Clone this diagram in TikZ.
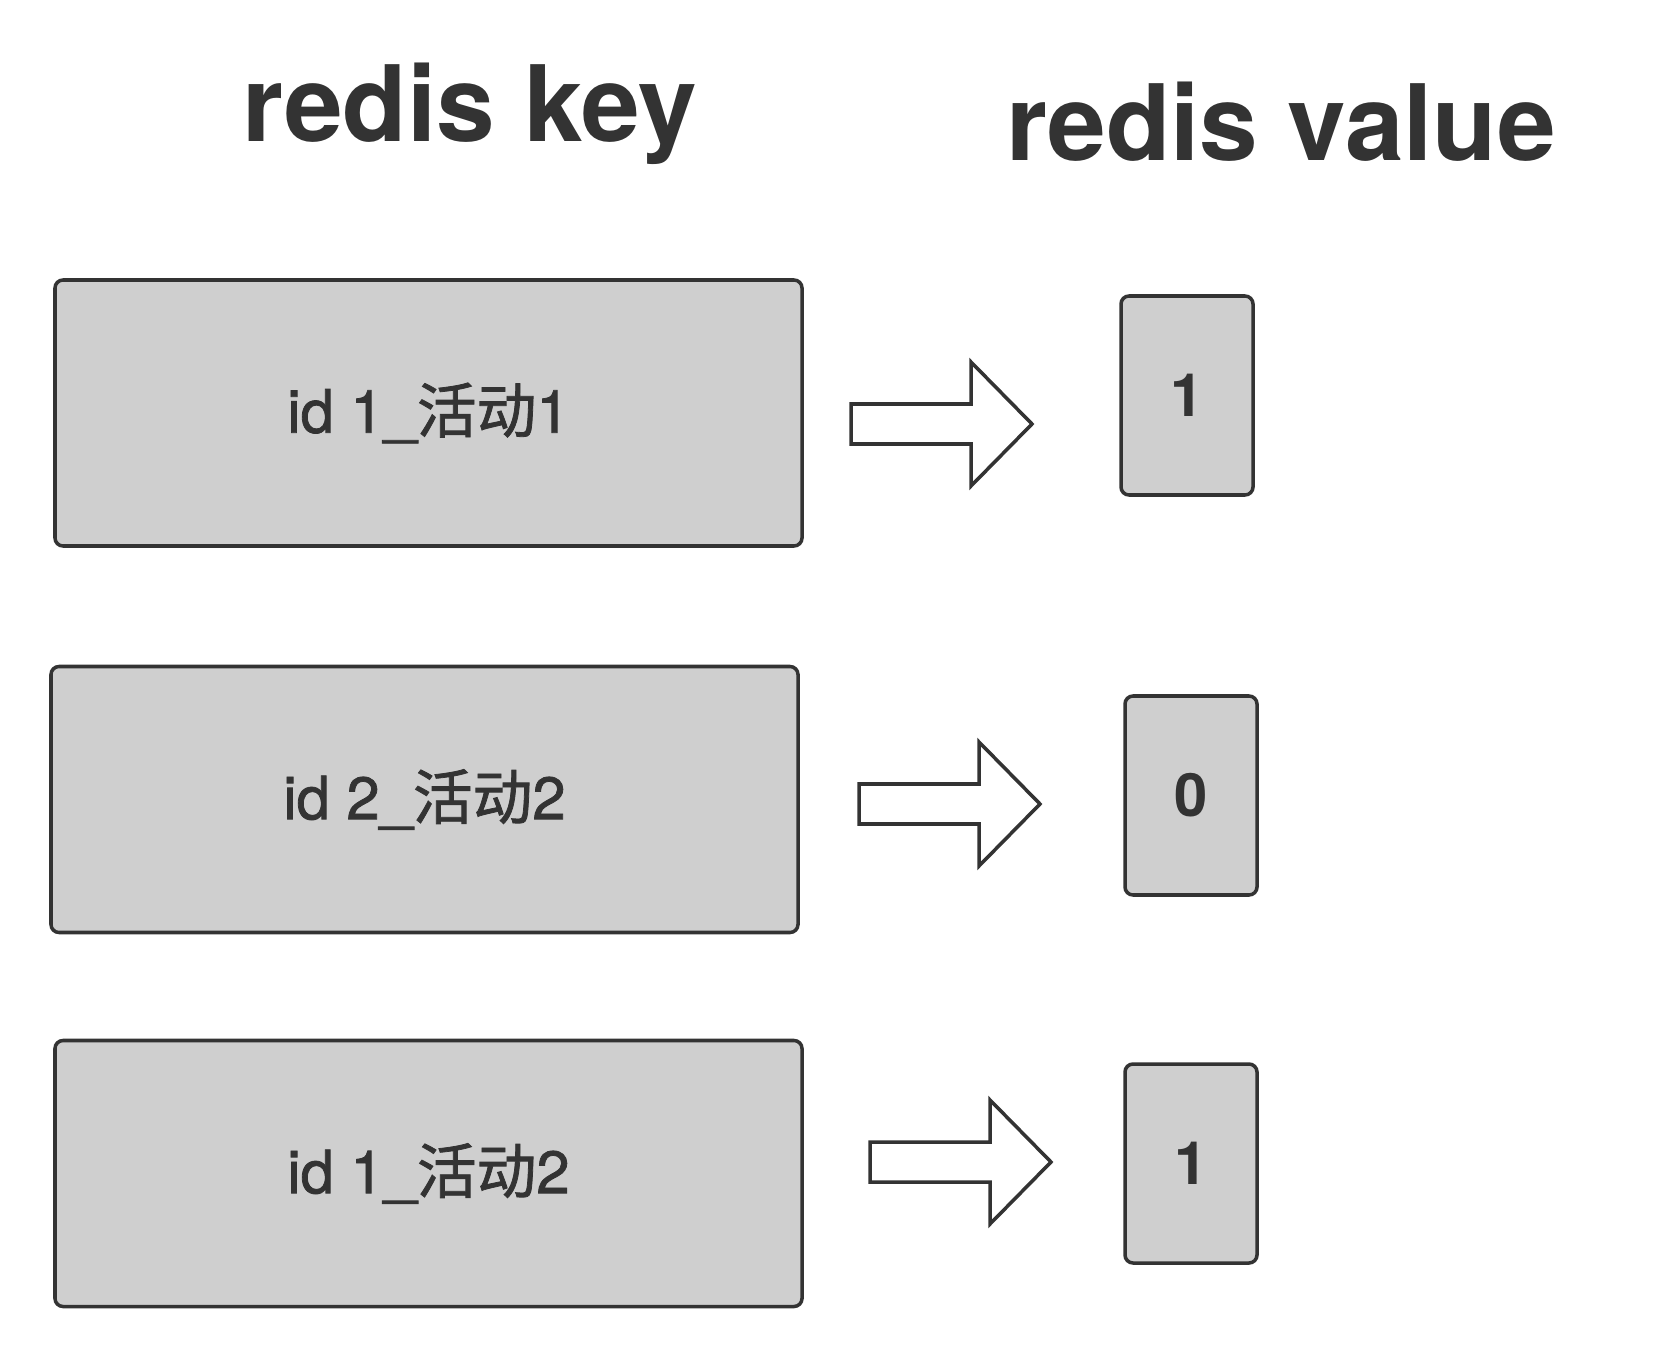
\documentclass[tikz,border=0pt]{standalone}
\usepackage{fontspec}
\setmainfont{TeX Gyre Heros}
\newfontfamily\midfont{TeX Gyre Heros}[FakeBold=1.3]
\newfontfamily\cjk{Noto Sans CJK SC}[FakeBold=1.3]
\definecolor{inkgray}{HTML}{333333}
\definecolor{boxgray}{HTML}{CFCFCF}

\begin{document}
\begin{tikzpicture}[
    keybox/.style={draw=inkgray, fill=boxgray, line width=2pt, rounded corners=0.16cm,
        minimum width=14.94cm, minimum height=5.32cm, text=inkgray, font=\fontsize{34}{40}\selectfont\midfont},
    valbox/.style={draw=inkgray, fill=boxgray, line width=2pt, rounded corners=0.16cm,
        minimum width=2.64cm, minimum height=3.98cm, text=inkgray, font=\fontsize{34}{40}\selectfont\bfseries},
    title/.style={anchor=base, text=inkgray, font=\fontsize{60}{72}\selectfont\bfseries},
    bigarrow/.style={draw=inkgray, fill=white, line width=2pt}]

    \useasboundingbox (0,0) rectangle (33.1,-27.14);

    % 标题
    \node[title] (keytitle) at (9.4,-2.84) {redis key};
    \node[title] (valtitle) at (25.62,-3.22) {redis value};

    % 每行: key -> value
    \foreach \i/\kx/\ky/\vx/\vy/\ax/\ay/\key/\val in {
        1/8.57/-8.26/23.74/-7.91/17.02/-8.48/{1\_{\cjk 活动}1}/1,
        2/8.49/-15.99/23.82/-15.91/17.18/-16.08/{2\_{\cjk 活动}2}/0,
        3/8.57/-23.47/23.82/-23.27/17.40/-23.24/{1\_{\cjk 活动}2}/1} {
        \node[keybox] (k\i) at (\kx,\ky) {id \key};
        \node[valbox] (v\i) at (\vx,\vy) {\val};
        \coordinate (a\i) at (\ax,\ay);
        \draw[bigarrow] (a\i) ++(0,0.4) -- ++(2.4,0) -- ++(0,0.84) -- ++(1.22,-1.24)
            -- ++(-1.22,-1.24) -- ++(0,0.84) -- ++(-2.4,0) -- cycle;
    }

\end{tikzpicture}
\end{document}
